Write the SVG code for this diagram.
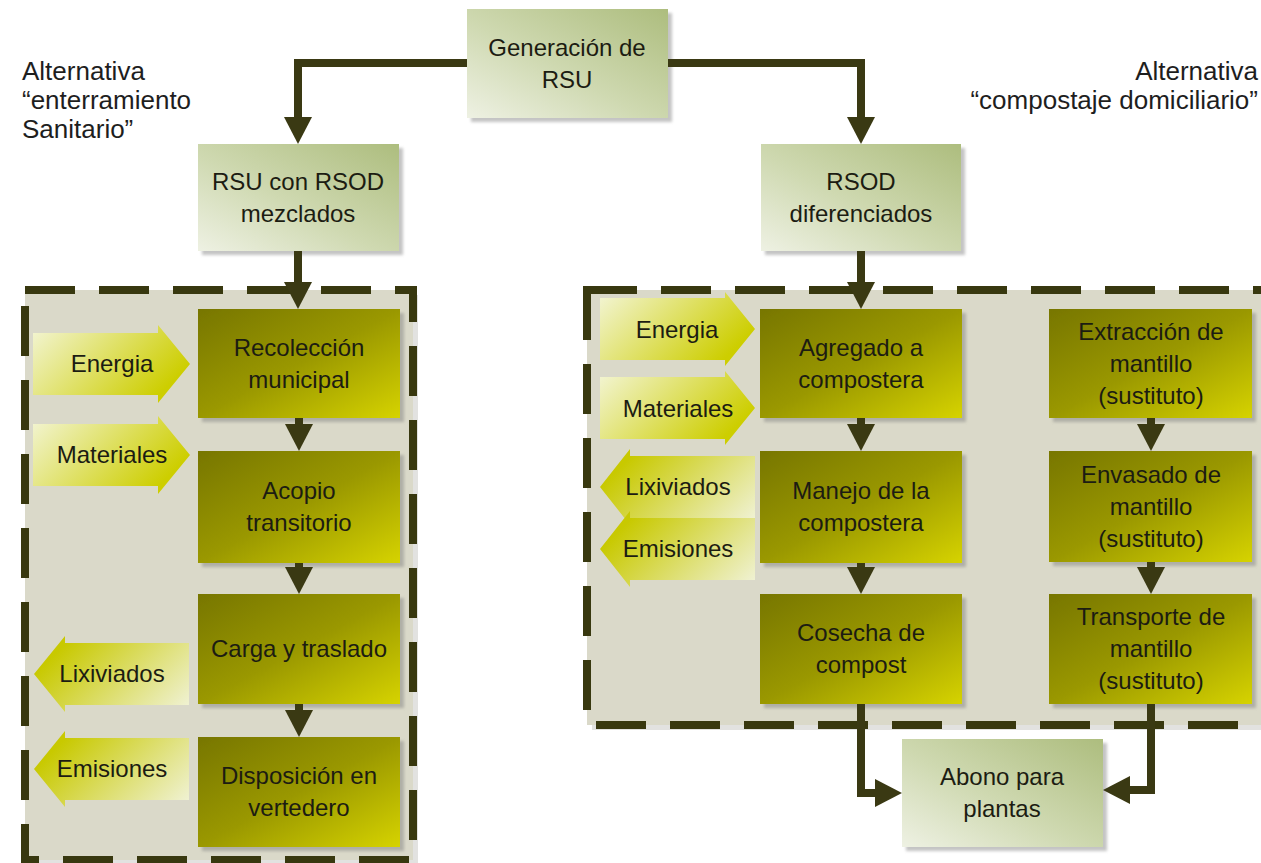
<svg xmlns="http://www.w3.org/2000/svg" width="1261" height="863" viewBox="0 0 1261 863">
<style>
.t{font-family:'Liberation Sans',Arial,sans-serif;font-size:24px;fill:#1c1c12;text-anchor:middle}
.lbl{font-family:'Liberation Sans',Arial,sans-serif;font-size:26px;fill:#1e1e1e}
.conn{fill:none;stroke:#3a3913;stroke-width:8;stroke-linejoin:miter}
.dash{fill:#dad9c9;stroke:#38380f;stroke-width:8;stroke-dasharray:50 24}
.dshadow{fill:#e2e2e0}
.light{fill:url(#gLight);filter:url(#sh)}
.dark{fill:url(#gDark);filter:url(#sh)}
.in{fill:url(#gIn)}
.out{fill:url(#gOut)}
</style>
<defs>
<linearGradient id="gLight" x1="0" y1="1" x2="1" y2="0">
<stop offset="0" stop-color="#eef1e3"/>
<stop offset="0.45" stop-color="#cfd9b1"/>
<stop offset="1" stop-color="#adbd7e"/>
</linearGradient>
<linearGradient id="gDark" x1="0" y1="0" x2="1" y2="1">
<stop offset="0" stop-color="#777600"/>
<stop offset="0.5" stop-color="#9a9806"/>
<stop offset="1" stop-color="#d6d300"/>
</linearGradient>
<linearGradient id="gIn" x1="0" y1="0" x2="1" y2="0.5">
<stop offset="0" stop-color="#f3f5d6"/>
<stop offset="1" stop-color="#cdce00"/>
</linearGradient>
<linearGradient id="gOut" x1="0" y1="0.5" x2="1" y2="1">
<stop offset="0" stop-color="#c8c900"/>
<stop offset="1" stop-color="#f1f3da"/>
</linearGradient>
<filter id="sh" x="-10%" y="-10%" width="130%" height="130%">
<feDropShadow dx="4" dy="4" stdDeviation="1.5" flood-color="#7a7a7a" flood-opacity="0.45"/>
</filter>
<marker id="ah" markerUnits="userSpaceOnUse" markerWidth="27" markerHeight="28" viewBox="0 0 27 28" refX="1" refY="14" orient="auto">
<path d="M0,0 L27,14 L0,28 Z" fill="#3a3913"/>
</marker>
</defs>

<rect width="1261" height="863" fill="#ffffff"/>

<g id="labels">
<text class="lbl" x="22" y="80">Alternativa</text>
<text class="lbl" x="22" y="109">“enterramiento</text>
<text class="lbl" x="22" y="138">Sanitario”</text>
<text class="lbl" x="1258" y="80" text-anchor="end">Alternativa</text>
<text class="lbl" x="1258" y="109" text-anchor="end">“compostaje domiciliario”</text>
</g>

<g id="group-left">
<rect class="dshadow" x="30" y="295" width="388" height="570"/>
<rect class="dash" x="25" y="290" width="388" height="570"/>
</g>
<g id="group-right">
<rect class="dshadow" x="592" y="295" width="700" height="435"/>
<rect class="dash" x="587" y="290" width="700" height="435"/>
</g>

<g id="n-gen"><rect class="light" x="467" y="9" width="201" height="109"/>
<text class="t" x="567" y="56">Generación de</text><text class="t" x="567" y="88">RSU</text></g>

<g id="n-rsu"><rect class="light" x="198" y="144" width="201" height="107"/>
<text class="t" x="298" y="190">RSU con RSOD</text><text class="t" x="298" y="222">mezclados</text></g>

<g id="n-rsod"><rect class="light" x="761" y="144" width="200" height="107"/>
<text class="t" x="861" y="190">RSOD</text><text class="t" x="861" y="222">diferenciados</text></g>

<g id="n-recoleccion"><rect class="dark" x="198" y="309" width="202" height="109"/>
<text class="t" x="299" y="356">Recolección</text><text class="t" x="299" y="388">municipal</text></g>

<g id="n-acopio"><rect class="dark" x="198" y="451" width="202" height="112"/>
<text class="t" x="299" y="499">Acopio</text><text class="t" x="299" y="531">transitorio</text></g>

<g id="n-carga"><rect class="dark" x="198" y="594" width="202" height="110"/>
<text class="t" x="299" y="657">Carga y traslado</text></g>

<g id="n-disposicion"><rect class="dark" x="198" y="737" width="202" height="110"/>
<text class="t" x="299" y="784">Disposición en</text><text class="t" x="299" y="816">vertedero</text></g>

<g id="a-energia-l"><path class="in" d="M33,333 H158 V325 L190,364 L158,403 V395 H33 Z"/>
<text class="t" x="112" y="372">Energia</text></g>
<g id="a-materiales-l"><path class="in" d="M33,424 H158 V416 L190,455 L158,494 V486 H33 Z"/>
<text class="t" x="112" y="463">Materiales</text></g>
<g id="a-lixiviados-l"><path class="out" d="M189,643 H65 V636 L34,674 L65,712 V705 H189 Z"/>
<text class="t" x="112" y="682">Lixiviados</text></g>
<g id="a-emisiones-l"><path class="out" d="M189,738 H65 V731 L34,769 L65,807 V800 H189 Z"/>
<text class="t" x="112" y="777">Emisiones</text></g>

<g id="n-agregado"><rect class="dark" x="760" y="309" width="202" height="109"/>
<text class="t" x="861" y="356">Agregado a</text><text class="t" x="861" y="388">compostera</text></g>

<g id="n-manejo"><rect class="dark" x="760" y="451" width="202" height="112"/>
<text class="t" x="861" y="499">Manejo de la</text><text class="t" x="861" y="531">compostera</text></g>

<g id="n-cosecha"><rect class="dark" x="760" y="594" width="202" height="110"/>
<text class="t" x="861" y="641">Cosecha de</text><text class="t" x="861" y="673">compost</text></g>

<g id="n-extraccion"><rect class="dark" x="1049" y="309" width="203" height="109"/>
<text class="t" x="1151" y="340">Extracción de</text><text class="t" x="1151" y="372">mantillo</text><text class="t" x="1151" y="404">(sustituto)</text></g>

<g id="n-envasado"><rect class="dark" x="1049" y="451" width="203" height="111"/>
<text class="t" x="1151" y="483">Envasado de</text><text class="t" x="1151" y="515">mantillo</text><text class="t" x="1151" y="547">(sustituto)</text></g>

<g id="n-transporte"><rect class="dark" x="1049" y="594" width="203" height="110"/>
<text class="t" x="1151" y="625">Transporte de</text><text class="t" x="1151" y="657">mantillo</text><text class="t" x="1151" y="689">(sustituto)</text></g>

<g id="a-energia-r"><path class="in" d="M600,298 H725 V292 L755,329 L725,366 V360 H600 Z"/>
<text class="t" x="677" y="338">Energia</text></g>
<g id="a-materiales-r"><path class="in" d="M600,377 H725 V371 L755,408 L725,445 V439 H600 Z"/>
<text class="t" x="678" y="417">Materiales</text></g>
<g id="a-lixiviados-r"><path class="out" d="M755,456 H630 V449 L600,487 L630,525 V518 H755 Z"/>
<text class="t" x="678" y="495">Lixiviados</text></g>
<g id="a-emisiones-r"><path class="out" d="M755,518 H630 V511 L600,549 L630,587 V580 H755 Z"/>
<text class="t" x="678" y="557">Emisiones</text></g>

<g id="n-abono"><rect class="light" x="902" y="739" width="201" height="108"/>
<text class="t" x="1002" y="785">Abono para</text><text class="t" x="1002" y="817">plantas</text></g>

<g id="connectors">
<path class="conn" marker-end="url(#ah)" d="M467,63 H298 V118"/>
<path class="conn" marker-end="url(#ah)" d="M668,63 H861 V118"/>
<path class="conn" marker-end="url(#ah)" d="M298,251 V283"/>
<path class="conn" marker-end="url(#ah)" d="M299,418 V425"/>
<path class="conn" marker-end="url(#ah)" d="M299,563 V568"/>
<path class="conn" marker-end="url(#ah)" d="M299,704 V711"/>
<path class="conn" marker-end="url(#ah)" d="M861,251 V283"/>
<path class="conn" marker-end="url(#ah)" d="M861,418 V425"/>
<path class="conn" marker-end="url(#ah)" d="M861,563 V568"/>
<path class="conn" marker-end="url(#ah)" d="M1151,418 V425"/>
<path class="conn" marker-end="url(#ah)" d="M1151,562 V568"/>
<path class="conn" marker-end="url(#ah)" d="M861,704 V793 H876"/>
<path class="conn" marker-end="url(#ah)" d="M1151,704 V790 H1129"/>
</g>
</svg>
